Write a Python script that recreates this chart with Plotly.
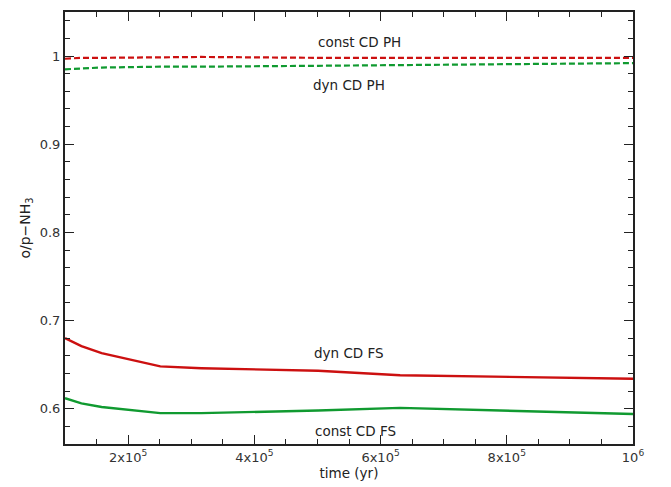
import plotly.graph_objects as go

# model time grid (yr)
time_yr = [1.0e5, 1.26e5, 1.58e5, 2.51e5, 3.16e5, 5.01e5, 6.31e5, 7.94e5, 1.0e6]

# ortho/para NH3 ratio for each model
const_cd_ph = [0.997, 0.998, 0.998, 0.999, 0.999, 0.998, 0.998, 0.998, 0.998]
dyn_cd_ph = [0.985, 0.986, 0.987, 0.988, 0.988, 0.989, 0.990, 0.991, 0.992]
dyn_cd_fs = [0.680, 0.671, 0.663, 0.648, 0.646, 0.643, 0.638, 0.636, 0.634]
const_cd_fs = [0.612, 0.606, 0.602, 0.595, 0.595, 0.598, 0.601, 0.598, 0.594]

x_tickvals = [2e5, 4e5, 6e5, 8e5, 1e6]
x_ticktext = ["2x10<sup>5</sup>", "4x10<sup>5</sup>", "6x10<sup>5</sup>",
              "8x10<sup>5</sup>", "10<sup>6</sup>"]
y_tickvals = [0.6, 0.7, 0.8, 0.9, 1.0]
y_ticktext = ["0.6", "0.7", "0.8", "0.9", "1"]

RED = "#cc1010"
GREEN = "#109a30"
FONT = "DejaVu Sans, Verdana, sans-serif"

fig = go.Figure()
fig.add_trace(go.Scatter(x=time_yr, y=const_cd_ph, mode="lines",
                         line=dict(color=RED, width=2.2, dash="6px,3px")))
fig.add_trace(go.Scatter(x=time_yr, y=dyn_cd_ph, mode="lines",
                         line=dict(color=GREEN, width=2.2, dash="6px,3px")))
fig.add_trace(go.Scatter(x=time_yr, y=dyn_cd_fs, mode="lines",
                         line=dict(color=RED, width=2.4)))
fig.add_trace(go.Scatter(x=time_yr, y=const_cd_fs, mode="lines",
                         line=dict(color=GREEN, width=2.4)))

# curve labels (text, x, y)
labels = [("const CD PH", 5.67e5, 1.0164), ("dyn CD PH", 5.5e5, 0.967),
          ("dyn CD FS", 5.5e5, 0.663), ("const CD FS", 5.6e5, 0.5746)]
for text, xv, yv in labels:
    fig.add_annotation(x=xv, y=yv, text=text, showarrow=False,
                       font=dict(size=13.5, color="#222222", family=FONT))

axis_common = dict(
    showline=True, linecolor="#222222", linewidth=2, mirror="allticks",
    ticks="inside", ticklen=9, tickwidth=1.2, tickcolor="#222222",
    showgrid=False, zeroline=False,
    tickfont=dict(size=13, color="#333333", family=FONT),
)

fig.update_xaxes(
    range=[1e5, 1e6], tickmode="array", tickvals=x_tickvals, ticktext=x_ticktext,
    minor=dict(ticks="inside", dtick=5e4, tick0=0, ticklen=5, tickcolor="#222222",
               tickwidth=1.2),
    title=dict(text="time (yr)", font=dict(size=13.5, color="#222222", family=FONT),
               standoff=3),
    **axis_common,
)
fig.update_yaxes(
    range=[0.56, 1.05], tickmode="array", tickvals=y_tickvals, ticktext=y_ticktext,
    minor=dict(ticks="inside", dtick=0.02, tick0=0.0, ticklen=5, tickcolor="#222222",
               tickwidth=1.2),
    title=dict(text="o/p\u2212NH<sub>3</sub>",
               font=dict(size=14, color="#222222", family=FONT), standoff=6),
    **axis_common,
)

fig.update_layout(
    width=671, height=487,
    margin=dict(l=65, r=38, t=10, b=40),
    paper_bgcolor="white", plot_bgcolor="white",
    showlegend=False,
    font=dict(family=FONT),
)

fig.write_html("out.html")
